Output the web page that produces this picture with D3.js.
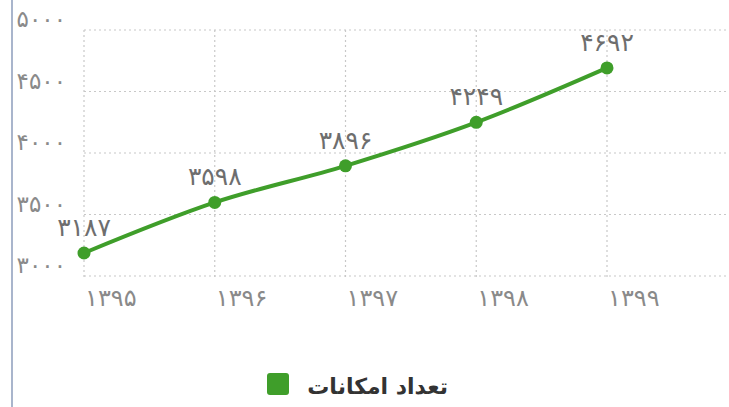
<!DOCTYPE html>
<html>
<head>
<meta charset="utf-8">
<script src="https://cdn.jsdelivr.net/npm/d3@7"></script>
<style>
  body { margin: 0; background: #fff; }
  svg { display: block; font-family: "DejaVu Sans", sans-serif; }
</style>
</head>
<body>
<div id="chart"></div>
<script>
var years = [1395, 1396, 1397, 1398, 1399];
var values = [3187, 3598, 3896, 4249, 4692];
var yTicks = [3000, 3500, 4000, 4500, 5000];
var seriesName = "تعداد امکانات";

var width = 729, height = 407;
var faDigits = "۰۱۲۳۴۵۶۷۸۹";

function toFa(n) {
    return String(n).replace(/[0-9]/g, function (d) { return faDigits[+d]; });
}

var svg = d3.select("#chart")
    .append("svg")
    .attr("width", width)
    .attr("height", height);

// left frame line
svg.append("line")
    .attr("x1", 12).attr("x2", 12)
    .attr("y1", 0).attr("y2", height)
    .attr("stroke", "#a9b5cc")
    .attr("stroke-width", 2);

var step = 130.75;
var x = d3.scaleLinear()
    .domain([0, years.length - 1])
    .range([84, 84 + step * (years.length - 1)]);

var y = d3.scaleLinear()
    .domain([3000, 5000])
    .range([276, 30]);

var grid = svg.append("g").attr("class", "grid");

grid.selectAll("line.h")
    .data(yTicks)
    .enter()
    .append("line")
    .attr("class", "h")
    .attr("x1", 84).attr("x2", width)
    .attr("y1", function (d) { return y(d); })
    .attr("y2", function (d) { return y(d); })
    .attr("stroke", "#c8c8c8")
    .attr("stroke-width", 1.2)
    .attr("stroke-dasharray", "2,3");

grid.selectAll("line.v")
    .data(d3.range(years.length + 1))
    .enter()
    .append("line")
    .attr("class", "v")
    .attr("x1", function (d) { return x(d); })
    .attr("x2", function (d) { return x(d); })
    .attr("y1", 30).attr("y2", 278)
    .attr("stroke", "#c8c8c8")
    .attr("stroke-width", 1.2)
    .attr("stroke-dasharray", "2,3");

// y labels
svg.selectAll("text.ylab")
    .data(yTicks)
    .enter()
    .append("text")
    .attr("class", "ylab")
    .attr("x", 66)
    .attr("y", function (d) { return y(d) - 3; })
    .attr("text-anchor", "end")
    .attr("direction", "ltr")
    .attr("fill", "#8a8a8a")
    .style("font-size", "23px")
    .text(function (d) { return toFa(d); });

// x labels
svg.selectAll("text.xlab")
    .data(years)
    .enter()
    .append("text")
    .attr("class", "xlab")
    .attr("x", function (d, i) { return x(i) + 1; })
    .attr("y", 306)
    .attr("text-anchor", "start")
    .attr("direction", "ltr")
    .attr("fill", "#8a8a8a")
    .style("font-size", "24px")
    .text(function (d) { return toFa(d); });

var line = d3.line()
    .x(function (d, i) { return x(i); })
    .y(function (d) { return y(d); })
    .curve(d3.curveMonotoneX);

svg.append("path")
    .datum(values)
    .attr("d", line)
    .attr("fill", "none")
    .attr("stroke", "#3f9e2a")
    .attr("stroke-width", 4);

svg.selectAll("circle.pt")
    .data(values)
    .enter()
    .append("circle")
    .attr("class", "pt")
    .attr("cx", function (d, i) { return x(i); })
    .attr("cy", function (d) { return y(d); })
    .attr("r", 6.5)
    .attr("fill", "#3f9e2a");

svg.selectAll("text.vlab")
    .data(values)
    .enter()
    .append("text")
    .attr("class", "vlab")
    .attr("x", function (d, i) { return x(i); })
    .attr("y", function (d) { return y(d) - 17; })
    .attr("text-anchor", "middle")
    .attr("direction", "ltr")
    .attr("fill", "#6e6e6e")
    .style("font-size", "25px")
    .text(function (d) { return toFa(d); });

// legend
var legend = svg.append("g").attr("transform", "translate(267,373)");
legend.append("rect")
    .attr("width", 22).attr("height", 22)
    .attr("rx", 3)
    .attr("fill", "#3f9e2a");
legend.append("text")
    .attr("x", 181)
    .attr("y", 21)
    .attr("text-anchor", "end")
    .attr("fill", "#333")
    .style("font-size", "22px")
    .style("font-weight", "bold")
    .text(seriesName);
</script>
</body>
</html>
